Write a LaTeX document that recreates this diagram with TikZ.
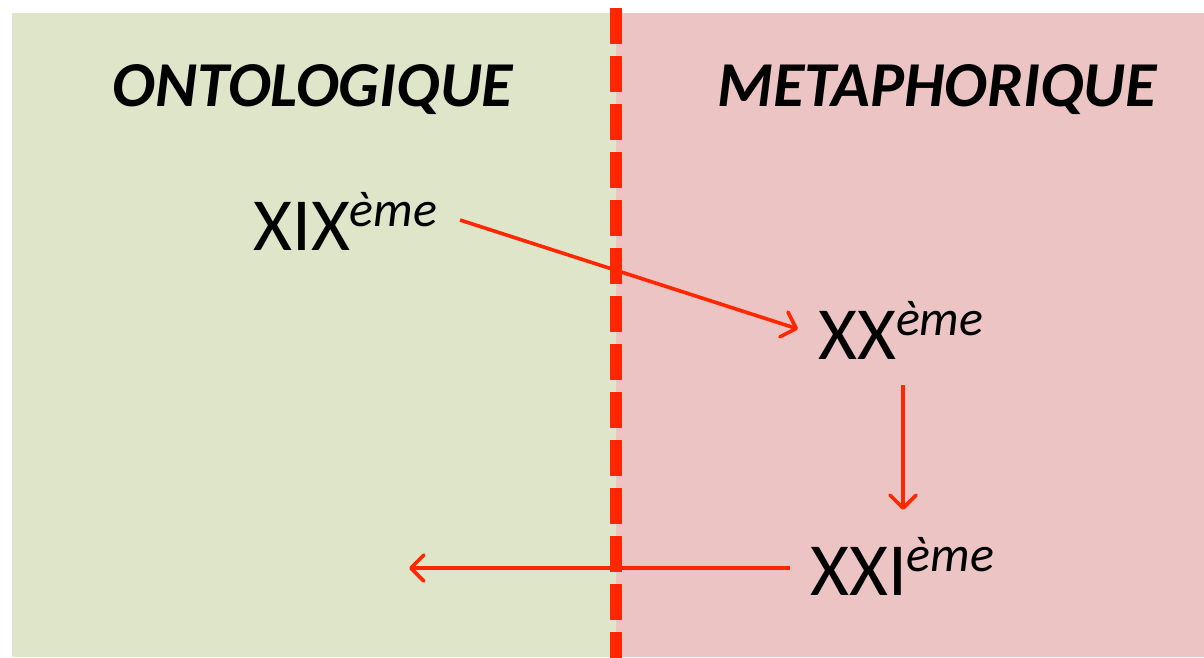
\documentclass[tikz,border=0pt]{standalone}
\usepackage{fontspec}
\setmainfont{Carlito}
\usetikzlibrary{arrows.meta}
\definecolor{panelgreen}{RGB}{222,229,201}
\definecolor{panelpink}{RGB}{236,196,195}
\definecolor{arrowred}{RGB}{255,38,0}
\tikzset{
  x=1pt,y=-1pt,
  heading/.style={font=\fontsize{64}{64}\selectfont\bfseries\itshape, inner sep=0pt, anchor=base},
  century/.style={font=\fontsize{75}{75}\selectfont, inner sep=0pt, anchor=base west},
  link/.style={draw=arrowred, line width=3.6pt, -{Straight Barb[length=13pt,width=26pt,line width=3.6pt,round]}},
}
\newcommand{\eme}{\raisebox{24pt}{\fontsize{50}{50}\selectfont\itshape ème}}
\begin{document}
\begin{tikzpicture}
\useasboundingbox (0,0) rectangle (1204,657);
\fill[white] (0,0) rectangle (1204,657);
\fill[panelgreen] (12,13) rectangle (616,657);
\fill[panelpink] (616,13) rectangle (1204,657);
\coordinate (top) at (616,8);
\coordinate (bot) at (616,668);
\draw[arrowred, line width=12pt, dash pattern=on 36pt off 12pt] (top) -- (bot);
\node[heading] (onto) at (313,106) {ONTOLOGIQUE};
\node[heading] (meta) at (937,106) {METAPHORIQUE};
\node[century] (xix) at (253,250) {XIX\eme};
\node[century] (xx) at (818,359) {XX\eme};
\node[century] (xxi) at (810,595) {XXI\eme};
\coordinate (c1) at (460,220);
\coordinate (c2) at (798,329);
\coordinate (c3) at (903,385);
\coordinate (c4) at (903,510);
\coordinate (c5) at (790,568);
\coordinate (c6) at (409,568);
\draw[link] (c1) -- (c2);
\draw[link] (c3) -- (c4);
\draw[link] (c5) -- (c6);
\end{tikzpicture}
\end{document}
